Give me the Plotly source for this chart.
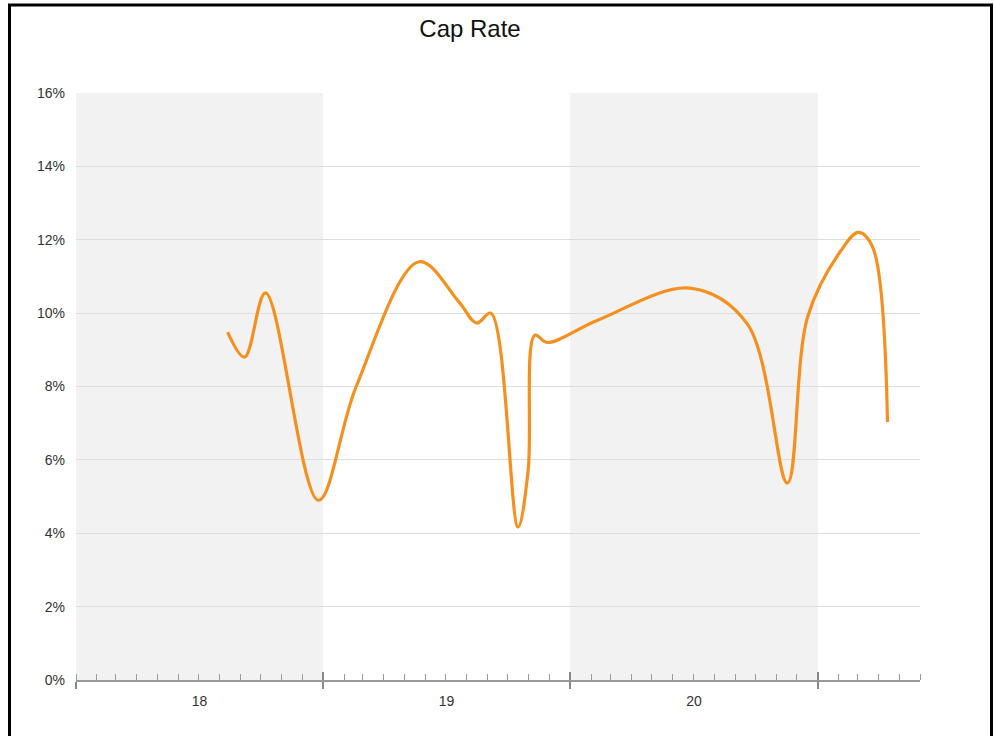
import plotly.graph_objects as go

# Data
dates = ["2018-08-13", "2018-09-07", "2018-10-08", "2018-12-25",
         "2019-02-19", "2019-05-23", "2019-07-21", "2019-08-16", "2019-09-06",
         "2019-10-16", "2019-10-31", "2019-11-10", "2019-11-28",
         "2020-02-10", "2020-06-26", "2020-09-19", "2020-11-17",
         "2020-12-17", "2021-02-04", "2021-03-02", "2021-03-23", "2021-04-14"]
cap_rate = [9.48, 8.80, 10.55, 4.90,
            8.00, 11.40, 10.30, 9.73, 10.00,
            4.17, 5.70, 9.40, 9.20,
            9.80, 10.68, 9.70, 5.37,
            9.90, 11.70, 12.20, 11.80, 7.03]

shaded_years = [("2018-01-01", "2019-01-01"), ("2020-01-01", "2021-01-01")]
x_range = ["2018-01-01", "2021-06-01"]
y_ticks = [0, 2, 4, 6, 8, 10, 12, 14, 16]
y_tick_labels = ["0%", "2%", "4%", "6%", "8%", "10%", "12%", "14%", "16%"]

W, H = 994, 736
L, R, T, B = 76, 74, 93, 56
pw, ph = W - L - R, H - T - B

fig = go.Figure()
fig.add_trace(go.Scatter(
    x=dates, y=cap_rate, mode="lines",
    line=dict(color="#F5901F", width=3.2, shape="spline", smoothing=1.0),
    hoverinfo="x+y", showlegend=False,
))
# invisible trace for overlay axis with inside major ticks
fig.add_trace(go.Scatter(x=x_range, y=[None, None], xaxis="x2", yaxis="y",
                         showlegend=False, hoverinfo="skip"))

shapes = []
for x0, x1 in shaded_years:
    shapes.append(dict(type="rect", xref="x", yref="paper", x0=x0, x1=x1, y0=0, y1=1,
                       fillcolor="#F2F2F2", line=dict(width=0), layer="below"))
# outer black frame
shapes.append(dict(type="rect", xref="paper", yref="paper",
                   x0=(9.5 - L) / pw, x1=(991.5 - L) / pw,
                   y0=(T + ph - 745) / ph, y1=(T + ph - 5) / ph,
                   line=dict(color="black", width=3), fillcolor="rgba(0,0,0,0)"))

font_family = "Helvetica Neue, Liberation Sans, Arial, sans-serif"
fig.update_layout(
    width=W, height=H,
    margin=dict(l=L, r=R, t=T, b=B),
    paper_bgcolor="white", plot_bgcolor="white",
    font=dict(family=font_family, color="#333333", size=14),
    title=dict(text="Cap Rate", x=470 / W, xref="container", xanchor="center",
               y=1 - 29 / H, yref="container", yanchor="middle",
               font=dict(size=24, color="#111111", family=font_family)),
    shapes=shapes,
    xaxis=dict(type="date", range=x_range, dtick="M12", tick0="2018-01-01",
               tickformat="%y", ticklabelmode="period",
               ticks="outside", ticklen=7, tickwidth=1.5, tickcolor="#888888",
               showline=True, linecolor="#999999", linewidth=1.5,
               showgrid=False, zeroline=False,
               minor=dict(dtick="M1", ticks="inside", ticklen=6, tickcolor="#999999",
                          tickwidth=1, showgrid=False),
               tickfont=dict(size=14, color="#333333")),
    xaxis2=dict(type="date", range=x_range, overlaying="x", dtick="M12", tick0="2018-01-01",
                ticks="inside", ticklen=8, tickwidth=1.5, tickcolor="#888888",
                showticklabels=False, showgrid=False, zeroline=False, showline=False,
                side="bottom"),
    yaxis=dict(range=[0, 16], tickmode="array", tickvals=y_ticks, ticktext=y_tick_labels,
               showgrid=True, gridcolor="#DDDDDD", gridwidth=1,
               zeroline=False, showline=False, ticks="", ticklabelstandoff=10,
               tickfont=dict(size=14, color="#333333")),
)

fig.write_html("out.html", config={"displayModeBar": False},
               post_script="document.body.style.margin='0';document.body.style.overflow='hidden';")
